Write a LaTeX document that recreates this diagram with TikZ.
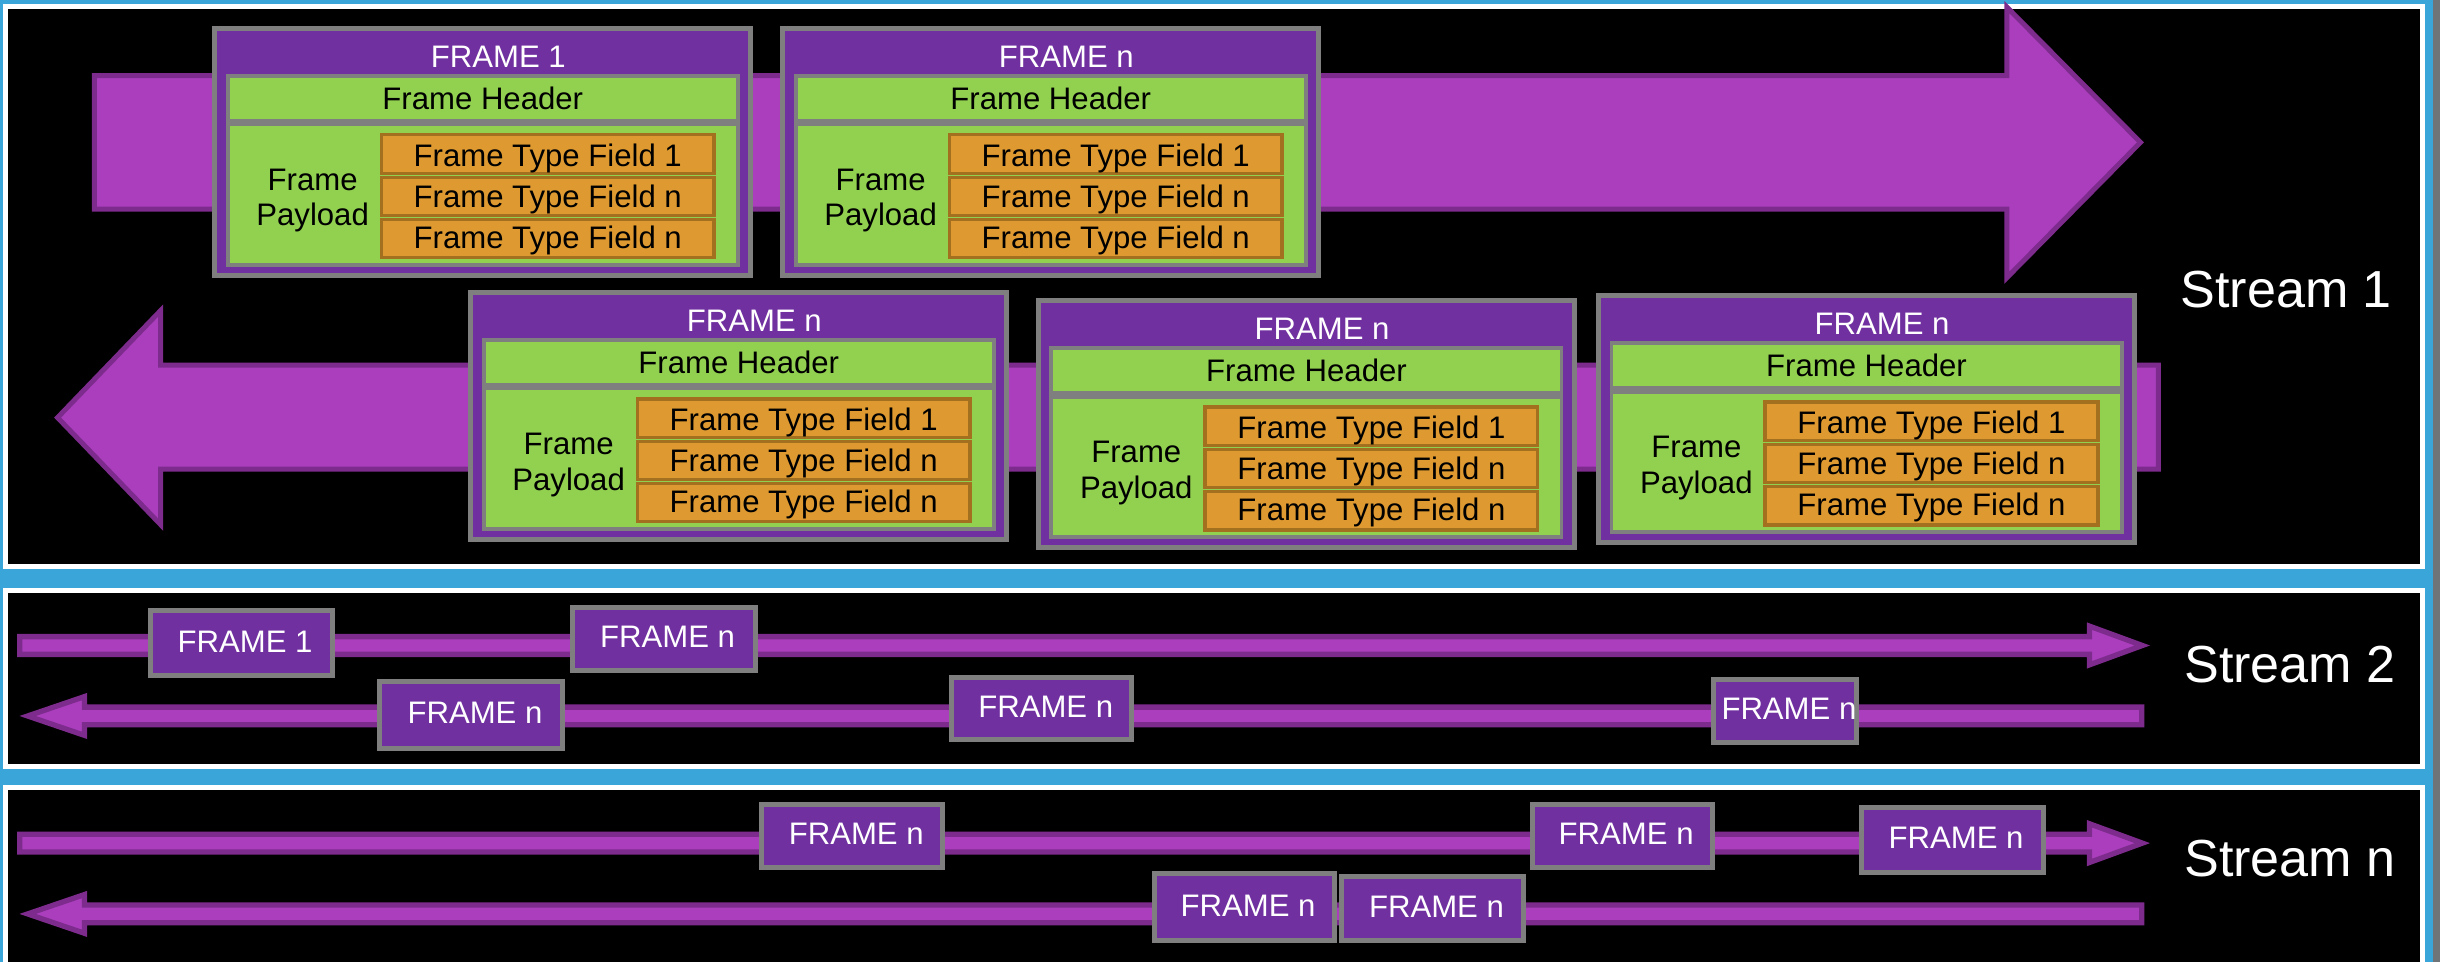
\documentclass[tikz,border=0pt]{standalone}
\usepackage{fontspec}
\setmainfont{Liberation Sans}

\definecolor{bgblue}{HTML}{3AA5D8}
\definecolor{edgegray}{HTML}{6F7478}
\definecolor{arrowfill}{HTML}{AA3EBD}
\definecolor{arrowline}{HTML}{7E2B8E}
\definecolor{framepurple}{HTML}{7030A0}
\definecolor{framegray}{HTML}{7F7F7F}
\definecolor{partgreen}{HTML}{92D050}
\definecolor{fieldorange}{HTML}{DE9A31}
\definecolor{fieldline}{HTML}{A2701F}

\tikzset{
  panel/.style={draw=white, line width=3.2pt, fill=black},
  flow/.style={draw=arrowline, fill=arrowfill, line width=3.2pt, line join=miter},
  thinflow/.style={draw=arrowline, fill=arrowfill, line width=3.4pt, line join=miter},
  framebox/.style={draw=framegray, fill=framepurple, line width=3.2pt, inner sep=0pt, outer sep=0pt},
  partbox/.style={draw=framegray, fill=partgreen, line width=2.5pt, inner sep=0pt, outer sep=0pt, minimum width=327.8pt},
  fieldbox/.style={draw=fieldline, fill=fieldorange, line width=2.2pt, inner sep=0pt, outer sep=0pt, minimum width=213.8pt},
  wtext/.style={text=white, inner sep=0pt, font=\fontsize{20}{24}\selectfont},
  btext/.style={text=black, inner sep=0pt, anchor=base, font=\fontsize{20}{24}\selectfont},
  streamtext/.style={text=white, inner sep=0pt, anchor=base west, font=\fontsize{33.5}{40}\selectfont},
}

% detailed frame: #1 name, #2/#3 top-left corner, #4 title
\newcommand\bigframe[4]{%
  \begin{scope}[shift={(#2,#3)}]
    \node[framebox, minimum width=344.3pt, minimum height=158.8pt] (#1) at (173.75,81) {};
    \node[wtext, anchor=base] (#1-title) at (183.75,26.6) {#4};
    \node[partbox, minimum height=28.6pt] (#1-hdr) at (173.75,46.45) {};
    \node[btext] (#1-hdrtext) at (173.75,53.8) {Frame Header};
    \node[partbox, minimum height=90.5pt] (#1-pay) at (173.75,108.5) {};
    \node[btext] (#1-pay1) at (64.4,105.4) {Frame};
    \node[btext] (#1-pay2) at (64.4,128.5) {Payload};
    \node[fieldbox, minimum height=24.8pt] (#1-f1) at (215.5,82.3) {};
    \node[btext] (#1-f1text) at (215.5,90.2) {Frame Type Field 1};
    \node[fieldbox, minimum height=24.4pt] (#1-f2) at (215.5,109.5) {};
    \node[btext] (#1-f2text) at (215.5,116.5) {Frame Type Field n};
    \node[fieldbox, minimum height=24.6pt] (#1-f3) at (215.5,136.6) {};
    \node[btext] (#1-f3text) at (215.5,142.7) {Frame Type Field n};
  \end{scope}}

% compact frame: #1 name, #2/#3 top-left, #4/#5 bottom-right, #6 text
\newcommand\smallframe[6]{%
  \node[framebox, minimum width={#4-#2-3.2}, minimum height={#5-#3-3.2}]
    (#1) at ({(#2+#4)/2},{(#3+#5)/2}) {};
  \node[wtext, xshift=2.5pt, yshift=1.2pt] (#1-text) at (#1.center) {#6};}

% thin stream arrows, argument is the centre line
\newcommand\rightflow[1]{%
  \draw[thinflow] (12.7,{#1-5.7}) -- (1342.7,{#1-5.7}) -- (1342.7,{#1-12.45})
    -- (1376.7,#1) -- (1342.7,{#1+12.45}) -- (1342.7,{#1+5.7}) -- (12.7,{#1+5.7}) -- cycle;}
\newcommand\leftflow[1]{%
  \draw[thinflow] (1376.3,{#1-5.7}) -- (54.3,{#1-5.7}) -- (54.3,{#1-12.45})
    -- (17.8,#1) -- (54.3,{#1+12.45}) -- (54.3,{#1+5.7}) -- (1376.3,{#1+5.7}) -- cycle;}

\begin{document}
\begin{tikzpicture}[x=1pt, y=-1pt]
  \useasboundingbox (0,0) rectangle (1568,618);
  \clip (0,0) rectangle (1568,618);
  \fill[bgblue] (0,0) rectangle (1568,618);
  \fill[edgegray] (1563.6,0) rectangle (1568,618);

  % stream panels
  \draw[panel] (3.5,4.2) rectangle (1556.9,364.1);
  \draw[panel] (3.5,379.5) rectangle (1556.9,492.6);
  \draw[panel] (3.5,506.1) rectangle (1556.9,640);

  % Stream 1
  \draw[flow] (60.6,48.6) -- (1289.6,48.6) -- (1289.6,4.5) -- (1375.5,91.5)
    -- (1289.6,178.5) -- (1289.6,134.4) -- (60.6,134.4) -- cycle;
  \draw[flow] (1387,234.6) -- (103.2,234.6) -- (103.2,199.6) -- (37,268.35)
    -- (103.2,337.1) -- (103.2,301.4) -- (1387,301.4) -- cycle;

  \bigframe{fa}{136.5}{16.7}{FRAME 1}
  \bigframe{fb}{501.5}{16.7}{FRAME n}
  \bigframe{fc}{301}{186.4}{FRAME n}
  \bigframe{fd}{665.8}{191.6}{FRAME n}
  \bigframe{fe}{1025.7}{188.4}{FRAME n}

  \node[streamtext] (s1) at (1401,197.3) {Stream 1};

  % Stream 2
  \rightflow{414.8}
  \leftflow{460.1}
  \smallframe{ta}{95}{391}{215}{436}{FRAME 1}
  \smallframe{tb}{366}{388.8}{487}{432.6}{FRAME n}
  \smallframe{tc}{242.5}{436.5}{363}{482.6}{FRAME n}
  \smallframe{td}{610}{433.5}{729}{477}{FRAME n}
  \smallframe{te}{1099.5}{435}{1194.7}{478.8}{FRAME n}
  \node[streamtext] (s2) at (1403.5,438.3) {Stream 2};

  % Stream n
  \rightflow{541.8}
  \leftflow{587.3}
  \smallframe{ua}{488}{515.6}{607.5}{559}{FRAME n}
  \smallframe{ub}{983}{515.6}{1102}{559}{FRAME n}
  \smallframe{uc}{1194.4}{517.4}{1314.6}{562.3}{FRAME n}
  \smallframe{ud}{740}{560}{859}{606}{FRAME n}
  \smallframe{ue}{860.5}{561.7}{980.7}{606}{FRAME n}
  \node[streamtext] (sn) at (1403.5,563.5) {Stream n};
\end{tikzpicture}
\end{document}
